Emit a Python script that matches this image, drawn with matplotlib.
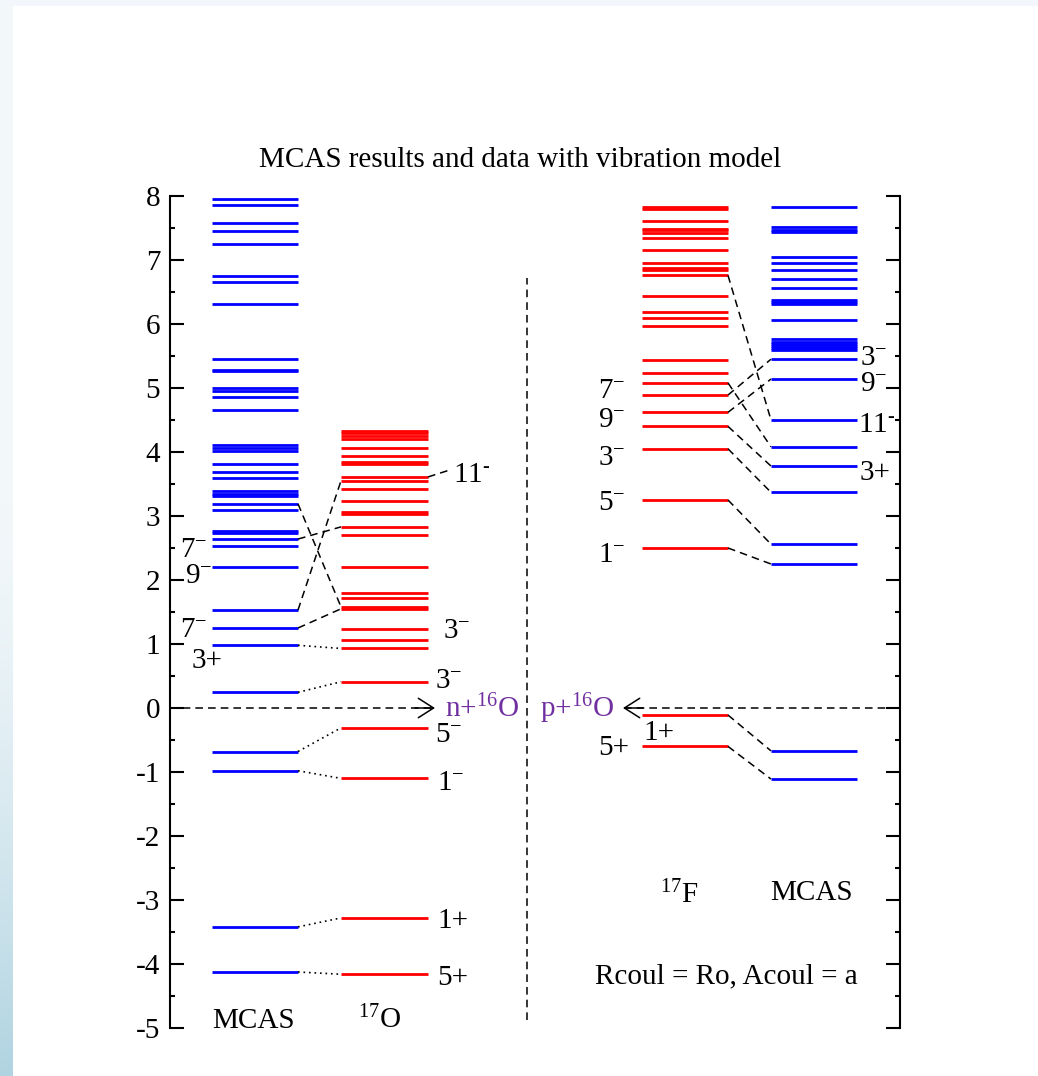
import matplotlib
matplotlib.use('Agg')
import matplotlib.pyplot as plt
import numpy as np
from matplotlib.patches import Rectangle
from matplotlib.ticker import MultipleLocator

plt.rcParams['font.family'] = ['Liberation Serif', 'DejaVu Serif']
plt.rcParams['mathtext.fontset'] = 'custom'
plt.rcParams['mathtext.rm'] = 'Liberation Serif'
plt.rcParams['mathtext.it'] = 'Liberation Serif:italic'
plt.rcParams['mathtext.default'] = 'rm'
plt.rcParams['axes.unicode_minus'] = False

# level energies in MeV, relative to the n+16O / p+16O thresholds
mcas_n = [-4.125, -3.42, -0.98, -0.68, 0.245, 0.98, 1.25, 1.53, 2.20, 2.53, 2.64,
          2.73, 2.77, 3.09, 3.19, 3.32, 3.35, 3.39, 3.60, 3.68, 3.82, 4.02, 4.06,
          4.11, 4.65, 4.86, 4.95, 5.00, 5.26, 5.28, 5.46, 6.31, 6.65, 6.75, 7.25,
          7.45, 7.58, 7.86, 7.95]
o17 = [-4.16, -3.28, -1.10, -0.31, 0.41, 0.93, 1.06, 1.23, 1.55, 1.58, 1.72, 1.79,
       2.21, 2.71, 2.83, 3.03, 3.06, 3.23, 3.42, 3.55, 3.61, 3.81, 3.84, 3.93,
       4.06, 4.21, 4.25, 4.30, 4.33]
f17 = [-0.60, -0.11, 2.50, 3.25, 4.05, 4.40, 4.62, 4.89, 5.08, 5.23, 5.44, 5.97,
       6.10, 6.18, 6.44, 6.76, 6.85, 6.88, 6.95, 7.16, 7.35, 7.42, 7.47, 7.49,
       7.61, 7.80, 7.83]
mcas_p = [-1.11, -0.67, 2.25, 2.56, 3.37, 3.78, 4.08, 4.50, 5.14, 5.45, 5.59, 5.62,
          5.66, 5.69, 5.72, 5.76, 6.07, 6.31, 6.35, 6.38, 6.56, 6.71, 6.85, 6.96,
          7.05, 7.44, 7.47, 7.51, 7.83]

# correspondences (MCAS level -> 17O level), (17F level -> MCAS level)
n_dashed = [(3.19, 1.58), (2.64, 2.83), (1.53, 3.55), (1.25, 1.55)]
n_dotted = [(0.98, 0.93), (0.245, 0.41), (-0.68, -0.31), (-0.98, -1.10),
            (-3.42, -3.28), (-4.125, -4.16)]
p_dashed = [(6.76, 4.50), (5.08, 4.08), (4.89, 5.45), (4.62, 5.14), (4.40, 3.78),
            (4.05, 3.37), (3.25, 2.56), (2.50, 2.25), (-0.11, -0.67), (-0.60, -1.11)]

# spin-parity labels: text and baseline energy
mcas_n_labels = [('7$^{-}$', 2.36), ('9$^{-}$', 1.95), ('7$^{-}$', 1.11), ('3+', 0.625)]
o17_labels = [('11$^{\\text{-}}$', 3.53), ('3$^{-}$', 1.09), ('3$^{-}$', 0.31),
              ('5$^{-}$', -0.53), ('1$^{-}$', -1.28), ('1+', -3.44), ('5+', -4.33)]
f17_labels = [('7$^{-}$', 4.84), ('9$^{-}$', 4.39), ('3$^{-}$', 3.80), ('5$^{-}$', 3.09),
              ('1$^{-}$', 2.28), ('5+', -0.73)]
mcas_p_labels = [('3$^{-}$', 5.36), ('9$^{-}$', 4.95), ('11$^{\\text{-}}$', 4.31),
                 ('3+', 3.56)]

W, H = 1038, 1076
fig = plt.figure(figsize=(W / 100, H / 100), dpi=100)
fig.patch.set_facecolor('#f3f7fb')
fig.add_artist(Rectangle((13 / W, 0), 1, 1 - 6 / H, transform=fig.transFigure,
                         facecolor='white', edgecolor='none', zorder=0))

# slide edge strip on the left
strip = fig.add_axes([0, 0, 13 / W, 1 - 6 / H])
t = np.linspace(0, 1, 300)[:, None]
top_c = np.array([0.95, 0.97, 0.98])
bot_c = np.array([0.69, 0.83, 0.88])
ramp = np.clip((t - 0.45) / 0.55, 0, 1) ** 1.6
grad = top_c * (1 - ramp[..., None]) + bot_c * ramp[..., None]
strip.imshow(grad, aspect='auto', extent=(0, 1, 0, 1))
strip.axis('off')

ax = fig.add_axes([170 / W, 1 - 1028 / H, 730 / W, 832 / H])
ax.set_facecolor('none')
ax.set_xlim(170, 900)
ax.set_ylim(-5, 8)
for s in ('top', 'bottom'):
    ax.spines[s].set_visible(False)
for s in ('left', 'right'):
    ax.spines[s].set_linewidth(1.5)
ax.set_xticks([])
ax.yaxis.set_major_locator(MultipleLocator(1))
ax.yaxis.set_minor_locator(MultipleLocator(0.5))
ax.tick_params(axis='y', which='both', direction='in', left=True, right=True,
               labelright=False, width=1.5)
ax.tick_params(axis='y', which='major', length=10, labelsize=21, pad=7)
ax.tick_params(axis='y', which='minor', length=3.6)

# level columns
cols = {'mcas_n': (212, 298), 'o17': (341, 428), 'f17': (642, 728), 'mcas_p': (771, 857)}
ax.hlines(mcas_n, *cols['mcas_n'], colors='#0000ff', lw=2)
ax.hlines(o17, *cols['o17'], colors='#ff0000', lw=2)
ax.hlines(f17, *cols['f17'], colors='#ff0000', lw=2)
ax.hlines(mcas_p, *cols['mcas_p'], colors='#0000ff', lw=2)

dash = dict(color='k', lw=1.1, ls=(0, (5, 3.3)))
dot = dict(color='k', lw=1.2, ls=(0, (1, 2.3)))
for a, b in n_dashed:
    ax.plot([298, 341], [a, b], **dash)
for a, b in n_dotted:
    ax.plot([298, 341], [a, b], **dot)
for a, b in p_dashed:
    ax.plot([728, 771], [a, b], **dash)
ax.plot([428, 452], [3.61, 3.73], **dash)

# separator and threshold arrows
ax.plot([527, 527], [-4.875, 6.72], **dash)
ax.plot([170, 434], [0, 0], **dash)
ax.plot([624, 900], [0, 0], **dash)
head = dict(arrowstyle='->,head_length=1.1,head_width=0.7', lw=1.1, color='k',
            shrinkA=0, shrinkB=0, mutation_scale=10)
ax.annotate('', xy=(435, 0), xytext=(415, 0), arrowprops=head)
ax.annotate('', xy=(623, 0), xytext=(643, 0), arrowprops=head)

purple = '#7030a0'
ax.text(445, -0.14, 'n+$^{16}$O', color=purple, fontsize=21, va='baseline')
ax.text(540, -0.14, 'p+$^{16}$O', color=purple, fontsize=21, va='baseline')

fs = 21
mn_x = [180, 185, 180, 192]
for (s, e), x in zip(mcas_n_labels, mn_x):
    ax.text(x, e, s, fontsize=fs, va='baseline')
o_x = [453, 443, 435, 435, 437, 437, 437]
for (s, e), x in zip(o17_labels, o_x):
    ax.text(x, e, s, fontsize=fs, va='baseline')
for s, e in f17_labels:
    ax.text(598, e, s, fontsize=fs, va='baseline')
ax.text(643, -0.50, '1+', fontsize=fs, va='baseline')
mp_x = [860, 860, 858, 860]
for (s, e), x in zip(mcas_p_labels, mp_x):
    ax.text(x, e, s, fontsize=fs, va='baseline')

ax.text(212, -5.0, 'MCAS', fontsize=fs, va='baseline')
ax.text(358, -5.0, '$^{17}$O', fontsize=fs, va='baseline')
ax.text(660, -3.05, '$^{17}$F', fontsize=fs, va='baseline')
ax.text(770, -3.0, 'MCAS', fontsize=fs, va='baseline')
ax.text(595, -4.31, 'Rcoul = Ro, Acoul = a', fontsize=fs, va='baseline')

fig.text(520 / W, 1 - 160 / H, 'MCAS results and data with vibration model',
         fontsize=21, ha='center', va='center')

fig.savefig('out.png', dpi=100)
